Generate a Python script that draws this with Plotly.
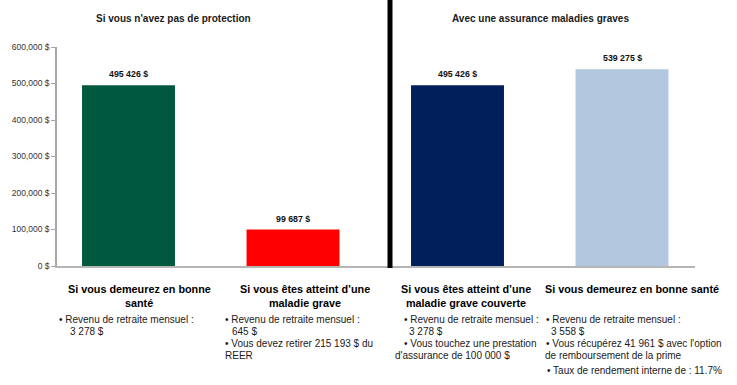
import plotly.graph_objects as go

# ---- data ----
categories = [
    "Si vous demeurez en bonne<br>santé",
    "Si vous êtes atteint d’une<br>maladie grave",
    "Si vous êtes atteint d’une<br>maladie grave couverte",
    "Si vous demeurez en bonne santé",
]
values = [495426, 99687, 495426, 539275]
value_labels = ["495 426 $", "99 687 $", "495 426 $", "539 275 $"]
bar_colors = ["#00583E", "#FF0000", "#001F5B", "#B2C8DE"]
tick_vals = [0, 100000, 200000, 300000, 400000, 500000, 600000]
tick_text = ["0 $", "100,000 $", "200,000 $", "300,000 $", "400,000 $", "500,000 $", "600,000 $"]
section_titles = ["Si vous n'avez pas de protection", "Avec une assurance maladies graves"]
details = [
    ["• Revenu de retraite mensuel :", "3 278 $"],
    ["• Revenu de retraite mensuel :", "645 $", "• Vous devez retirer 215 193 $ du", "REER"],
    ["• Revenu de retraite mensuel :", "3 278 $", "• Vous touchez une prestation", "d'assurance de 100 000 $"],
    ["• Revenu de retraite mensuel :", "3 558 $", "• Vous récupérez 41 961 $ avec l'option",
     "de remboursement de la prime", "• Taux de rendement interne de : 11.7%"],
]

# ---- layout geometry (pixels) ----
W, H = 737, 385
L, R, T, B = 57, 695, 47, 266
pw, ph = R - L, B - T


def px(x):
    return (x - L) / pw


def py(y):
    return (B - y) / ph


xpos = list(range(len(values)))

fig = go.Figure()
fig.add_trace(go.Bar(
    x=xpos, y=values, marker=dict(color=bar_colors, line=dict(width=0)),
    width=0.565, hoverinfo="skip", showlegend=False,
))

ann = []
FONT = "Liberation Sans, Arial, sans-serif"
# value labels
for xi, v, t in zip(xpos, values, value_labels):
    ann.append(dict(x=xi, y=v, xref="x", yref="y", text="<b>" + t + "</b>", showarrow=False,
                    yanchor="bottom", yshift=4, font=dict(size=8.8, color="#111", family=FONT)))

# section titles
for cx, t in zip([173, 540], section_titles):
    ann.append(dict(x=px(cx), y=py(18), xref="paper", yref="paper", text="<b>" + t + "</b>",
                    showarrow=False, xanchor="center", yanchor="middle",
                    font=dict(size=10, color="#1a1a1a", family=FONT)))

# column headings
col_centers = [139, 305, 466, 632]
for cx, t in zip(col_centers, categories):
    lines = t.split("<br>")
    for i, ln in enumerate(lines):
        ann.append(dict(x=px(cx), y=py(289 + 14 * i), xref="paper", yref="paper",
                        text="<b>" + ln + "</b>", showarrow=False, xanchor="center", yanchor="middle",
                        font=dict(size=10.8, color="#000", family=FONT)))

# detail lines positions
detail_pos = [
    [(57, 319), (68, 331)],
    [(223, 319), (230, 331), (223, 343), (223, 355)],
    [(402, 319), (407, 331), (402, 343), (393, 355)],
    [(544, 319), (549, 331), (544, 343), (543, 355), (545, 370)],
]
for lines, poss in zip(details, detail_pos):
    for ln, (x, y) in zip(lines, poss):
        ann.append(dict(x=px(x), y=py(y), xref="paper", yref="paper", text=ln, showarrow=False,
                        xanchor="left", yanchor="middle",
                        font=dict(size=10, color="#1a1a1a", family=FONT)))

fig.update_layout(
    width=W, height=H,
    margin=dict(l=L, r=W - R, t=T, b=H - B, pad=0),
    paper_bgcolor="white", plot_bgcolor="white",
    annotations=ann,
    shapes=[dict(type="line", xref="paper", yref="paper", x0=px(390), x1=px(390),
                 y0=py(268), y1=py(0), line=dict(color="black", width=5))],
    xaxis=dict(range=[-0.4347, 3.4437], showticklabels=False, ticks="", showgrid=False,
               zeroline=False, showline=True, linecolor="#b5b5b5", linewidth=1.5, fixedrange=True),
    yaxis=dict(range=[0, 600000], tickvals=tick_vals, ticktext=tick_text, showgrid=False,
               zeroline=False, showline=True, linecolor="#a6a6a6", linewidth=1.5,
               ticks="outside", ticklen=4, tickcolor="#a6a6a6", tickwidth=1,
               tickfont=dict(size=8.5, color="#333", family=FONT), fixedrange=True),
    font=dict(family=FONT),
)

fig.write_html("out.html", config={"displayModeBar": False},
               post_script="document.body.style.margin='0';document.body.style.padding='0';")
